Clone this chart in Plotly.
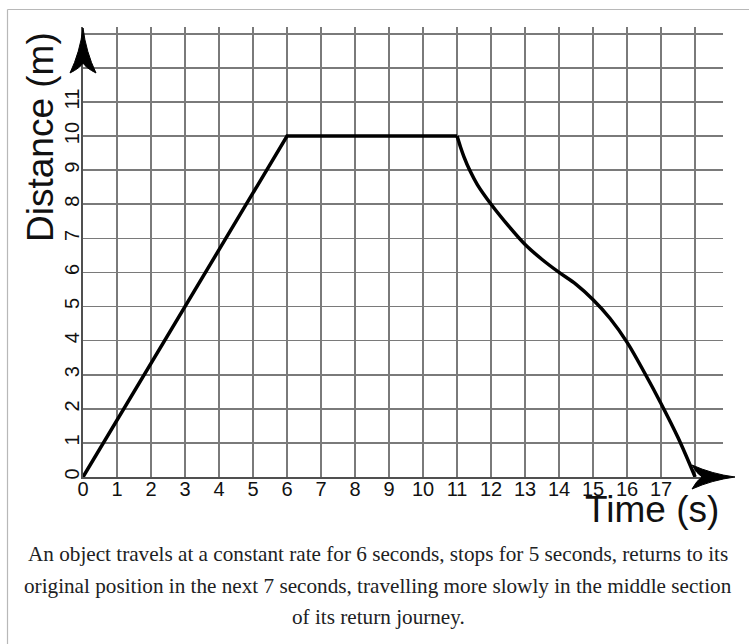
import plotly.graph_objects as go

# ---- data ----
time_constant = [0, 6, 11]
distance_constant = [0, 10, 10]

time_return = [11, 11.1, 11.2, 11.38, 11.6, 12, 12.5, 13, 13.5, 14, 14.5, 15, 15.5, 16, 16.5, 17, 17.5, 18]
distance_return = [10, 9.68, 9.4, 8.98, 8.57, 8.0, 7.38, 6.82, 6.38, 6.0, 5.65, 5.2, 4.65, 3.95, 3.08, 2.15, 1.15, 0]

x_tick_vals = [0, 1, 2, 3, 4, 5, 6, 7, 8, 9, 10, 11, 12, 13, 14, 15, 16, 17, 18]
x_tick_text = ["0", "1", "2", "3", "4", "5", "6", "7", "8", "9", "10", "11", "12", "13", "14", "15", "16", "17", ""]
y_tick_vals = [0, 1, 2, 3, 4, 5, 6, 7, 8, 9, 10, 11, 12, 13]
y_tick_text = ["0", "1", "2", "3", "4", "5", "6", "7", "8", "9", "10", "11", "", ""]

caption_lines = [
    "An object travels at a constant rate for 6 seconds, stops for 5 seconds, returns to its",
    "original position in the next 7 seconds, travelling more slowly in the middle section",
    "of its return journey.",
]

# ---- layout geometry (pixels) ----
W, H = 749, 644
ML, MR, MT, MB = 83, 26, 27, 167
PW, PH = W - ML - MR, H - MT - MB
OX, OY = ML, H - MB  # pixel of the data origin


def px(x):
    return (x - OX) / PW


def py(y):
    return (OY - y) / PH


fig = go.Figure()
fig.add_trace(go.Scatter(x=time_constant, y=distance_constant, mode="lines",
                         line=dict(color="black", width=3.5), showlegend=False,
                         hoverinfo="skip"))
fig.add_trace(go.Scatter(x=time_return, y=distance_return, mode="lines",
                         line=dict(color="black", width=3.5, shape="spline", smoothing=1),
                         showlegend=False, hoverinfo="skip"))

grid_color = "#7a7a7a"
axis_color = "#505050"
tick_font = dict(family="Liberation Sans, Arial, sans-serif", size=20, color="#111111")

fig.update_xaxes(range=[0, 18.82], tickvals=x_tick_vals, ticktext=x_tick_text,
                 showgrid=True, gridcolor=grid_color, gridwidth=1.7,
                 zeroline=False, showline=True, linecolor=axis_color, linewidth=2.2,
                 ticks="", tickfont=tick_font, ticklabelstandoff=-7, fixedrange=True)
fig.update_yaxes(range=[0, 13.2], tickvals=y_tick_vals, ticktext=y_tick_text,
                 showgrid=True, gridcolor=grid_color, gridwidth=1.7,
                 zeroline=False, showline=True, linecolor=axis_color, linewidth=2.2,
                 ticks="", tickfont=tick_font, tickangle=-90, ticklabelstandoff=-6,
                 fixedrange=True)

shapes = []
# arrowheads (pixel-sized, anchored at the data origin)
y_arrow = "M 0,449 Q 3,425 13,404 Q 3,409 0,414 Q -3,409 -13,404 Q -3,425 0,449 Z"
x_arrow = "M 652,0 Q 629,3 609,12 Q 614,3 619,0 Q 614,-3 609,-12 Q 629,-3 652,0 Z"
for p in (y_arrow, x_arrow):
    shapes.append(dict(type="path", xref="paper", yref="paper", xsizemode="pixel",
                       ysizemode="pixel", xanchor=0, yanchor=0, path=p,
                       fillcolor="black", line=dict(color="black", width=1), layer="above"))
# frame lines
shapes.append(dict(type="line", xref="paper", yref="paper", x0=px(7.5), x1=px(7.5), y0=py(9.5), y1=py(H),
                   line=dict(color="#b8b8b8", width=1.2), layer="above"))
shapes.append(dict(type="line", xref="paper", yref="paper", x0=px(7.5), x1=px(W), y0=py(9.5), y1=py(9.5),
                   line=dict(color="#b8b8b8", width=1.2), layer="above"))

annotations = [
    dict(text="Distance (m)", xref="paper", yref="paper", x=px(40), y=py(137),
         xanchor="center", yanchor="middle", textangle=-90, showarrow=False,
         font=dict(family="Liberation Sans, Arial, sans-serif", size=37, color="#111111")),
    dict(text="Time (s)", xref="paper", yref="paper", x=px(652), y=py(510),
         xanchor="center", yanchor="middle", showarrow=False,
         font=dict(family="Liberation Sans, Arial, sans-serif", size=37, color="#111111")),
]
for line_text, ypix in zip(caption_lines, [554, 586, 617]):
    annotations.append(dict(text=line_text, xref="paper", yref="paper", x=px(378), y=py(ypix),
                            xanchor="center", yanchor="middle", showarrow=False,
                            font=dict(family="Liberation Serif, Times New Roman, serif",
                                      size=21.2, color="#202122")))

fig.update_layout(width=W, height=H, margin=dict(l=ML, r=MR, t=MT, b=MB),
                  plot_bgcolor="white", paper_bgcolor="white",
                  shapes=shapes, annotations=annotations, showlegend=False)

fig.write_html("out.html", config={"displayModeBar": False, "staticPlot": True},
               post_script="document.body.style.margin='0';document.body.style.overflow='hidden';")
